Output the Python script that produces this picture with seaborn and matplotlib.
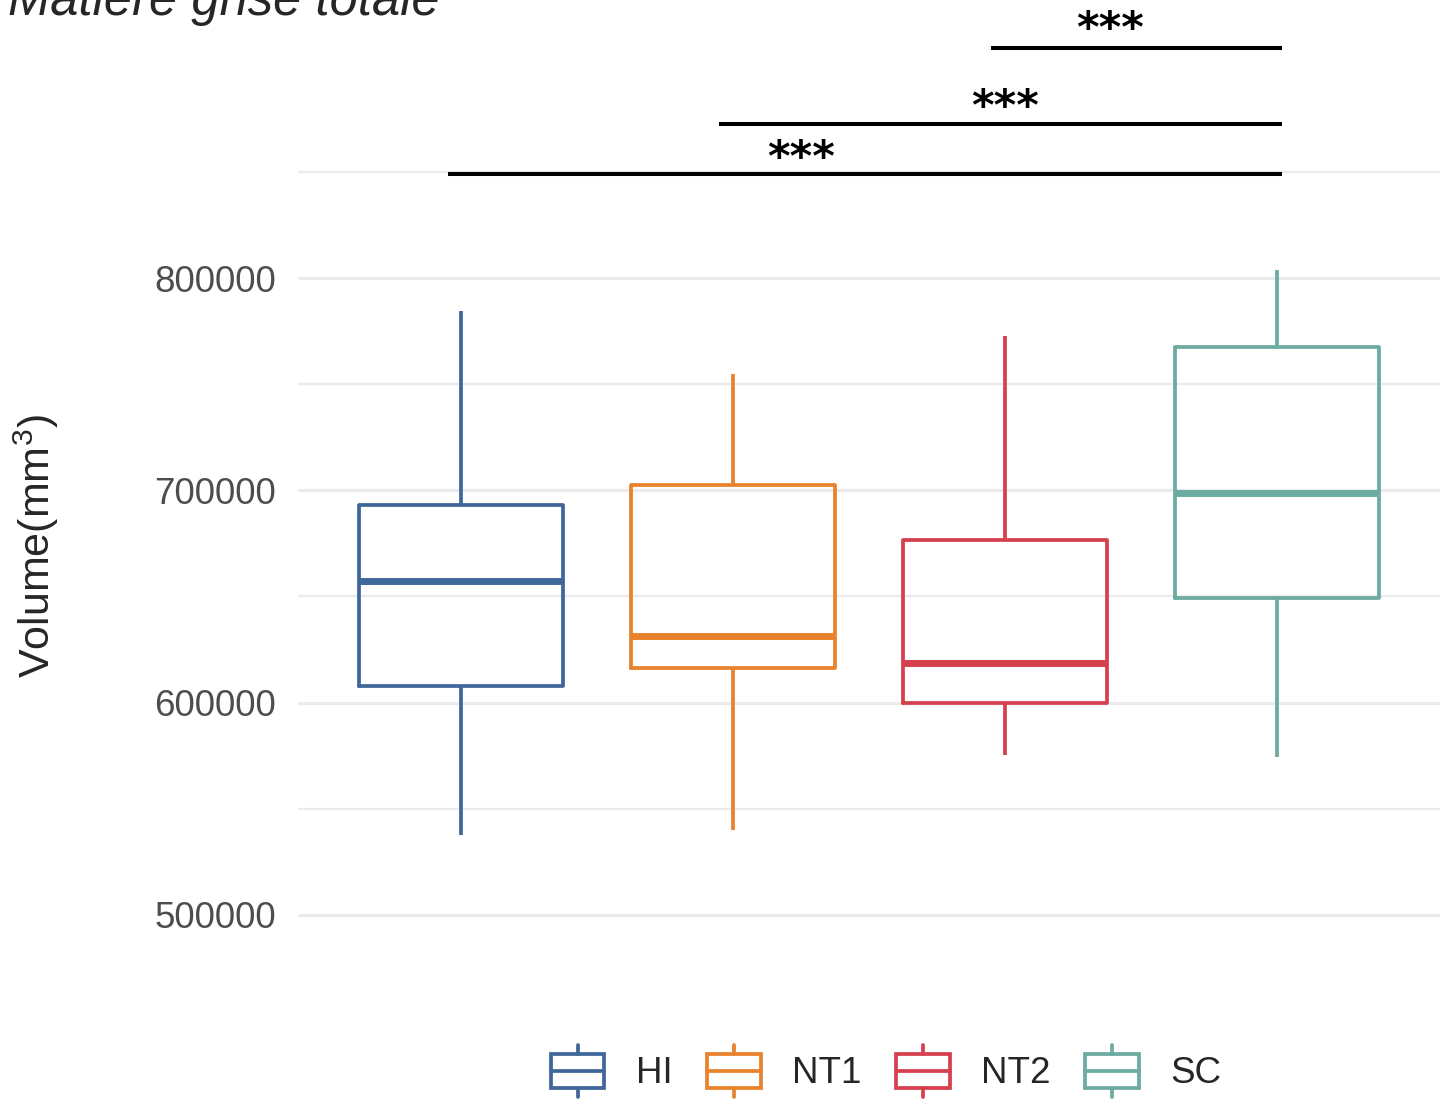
import numpy as np
import pandas as pd
import matplotlib
matplotlib.use("Agg")
import matplotlib.pyplot as plt
import matplotlib.patches as mpatches
from matplotlib.lines import Line2D
from matplotlib.legend_handler import HandlerBase
import seaborn as sns

# Five-number summaries of total grey matter volume (mm^3) per group
groups = ["HI", "NT1", "NT2", "SC"]
whisker_low = [537700, 540000, 575300, 574400]
q1 = [607800, 616300, 600000, 649300]
median = [657300, 631400, 618700, 698700]
q3 = [693100, 702500, 676600, 767500]
whisker_high = [784500, 754800, 772700, 803800]
colors = ["#41679A", "#E9822C", "#D6404E", "#6BABA2"]

y_ticks = [500000, 600000, 700000, 800000]
y_minor = [550000, 650000, 750000, 850000]

# Pairwise comparisons drawn as brackets above the boxes
comparisons = [("HI", "SC"), ("NT1", "SC"), ("NT2", "SC")]
bracket_y = [849000, 872500, 908300]
label_x = [1.25, 2.0, 2.385]
label_y = [856000, 880000, 917000]
labels = ["***", "***", "***"]

rows = []
for g, lo, a, m, b, hi in zip(groups, whisker_low, q1, median, q3, whisker_high):
    for v in (lo, a, m, b, hi):
        rows.append({"group": g, "volume": v})
df = pd.DataFrame(rows)

sns.set_style("white")
plt.rcParams["font.family"] = ["Liberation Sans", "DejaVu Sans"]
plt.rcParams["mathtext.fontset"] = "custom"
plt.rcParams["mathtext.rm"] = "Liberation Sans"
plt.rcParams["mathtext.default"] = "regular"

W, H = 1448, 1099
fig = plt.figure(figsize=(W / 100, H / 100), dpi=100)
ax = fig.add_axes([298 / W, (H - 1000) / H, 1142 / W, 1000 / H])

sns.boxplot(
    data=df, x="group", y="volume", hue="group", order=groups, hue_order=groups,
    palette=colors, fill=False, width=0.75, linewidth=2.7, whis=(0, 100),
    showcaps=False, medianprops={"linewidth": 5.0}, legend=False, ax=ax,
)

ax.set_xlim(-0.6, 3.6)
ax.set_ylim(459965, 930930)
ax.set_yticks(y_ticks)
ax.set_yticklabels([str(v) for v in y_ticks])
ax.set_yticks(y_minor, minor=True)
ax.set_xticks([])
ax.set_xlabel("")
ax.set_ylabel("")
ax.set_axisbelow(True)
ax.grid(which="major", axis="y", color="#EBEBEB", linewidth=2.3)
ax.grid(which="minor", axis="y", color="#EBEBEB", linewidth=1.7)
ax.tick_params(axis="y", which="both", length=0, pad=16, labelsize=26.5,
               labelcolor="#4D4D4D")
for s in ax.spines.values():
    s.set_visible(False)

# Significance brackets
for (a, b), y, lx, ly, lab in zip(comparisons, bracket_y, label_x, label_y, labels):
    x0 = groups.index(a) - 0.05
    x1 = groups.index(b) + 0.02
    ax.plot([x0, x1], [y, y], color="black", linewidth=2.9, clip_on=False,
            solid_capstyle="butt")
    ax.text(lx, ly, lab, ha="center", va="center", fontsize=31,
            fontweight="bold", family="DejaVu Sans", color="black",
            clip_on=False)

fig.text(8 / W, (H - 15) / H, "Matière grise totale", fontsize=36.5,
         fontstyle="italic", ha="left", va="baseline")
fig.text(36 / W, 0.503, r"Volume(mm$^{3}$)", fontsize=31, rotation=90,
         ha="center", va="center")


class BoxKeyHandler(HandlerBase):
    def create_artists(self, legend, orig_handle, xdescent, ydescent,
                       width, height, fontsize, trans):
        c = orig_handle.get_edgecolor()
        lw = 2.7
        x0, y0 = -xdescent, -ydescent
        bh = height * 0.64
        by = y0 + (height - bh) / 2
        xm = x0 + width / 2
        rect = mpatches.Rectangle((x0, by), width, bh, facecolor="white",
                                  edgecolor=c, linewidth=lw, transform=trans)
        mid = Line2D([x0, x0 + width], [y0 + height / 2] * 2, color=c,
                     linewidth=lw, transform=trans)
        top = Line2D([xm, xm], [by + bh, y0 + height], color=c,
                     linewidth=lw, transform=trans)
        bot = Line2D([xm, xm], [y0, by], color=c, linewidth=lw, transform=trans)
        return [rect, mid, top, bot]


handles = [mpatches.Patch(edgecolor=c, facecolor="white", label=g)
           for g, c in zip(groups, colors)]
fig.legend(handles=handles, labels=groups, loc="center",
           bbox_to_anchor=(886 / W, 28 / H), ncol=4, frameon=False,
           fontsize=26.5, handlelength=1.45, handleheight=1.78,
           handletextpad=0.85, columnspacing=0.95, borderpad=0,
           handler_map={mpatches.Patch: BoxKeyHandler()})

fig.savefig("out.png", dpi=100)
